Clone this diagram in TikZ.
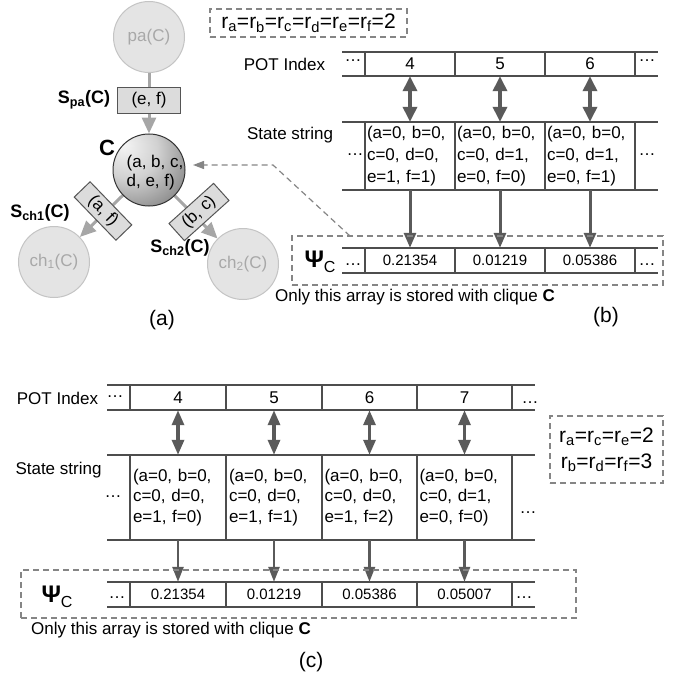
\documentclass[tikz,border=0pt]{standalone}
\usepackage{fontspec}
\setmainfont{Liberation Sans}
\usetikzlibrary{arrows.meta,backgrounds}
\definecolor{tline}{HTML}{4D4D4D}
\definecolor{arrc}{HTML}{5A5A5A}
\definecolor{dshc}{HTML}{858585}
\definecolor{gedgec}{HTML}{A6A6A6}
\definecolor{lcfill}{HTML}{E4E4E4}
\definecolor{lcdraw}{HTML}{C4C4C4}
\definecolor{lctext}{HTML}{A8A8A8}
\definecolor{boxfill}{HTML}{DCDCDC}
\definecolor{boxdraw}{HTML}{555555}
\pgfdeclareradialshading{cshade}{\pgfpoint{-18bp}{18bp}}{color(0bp)=(white!96!black); color(20bp)=(white!82!black); color(40bp)=(black!45); color(56bp)=(black!62); color(90bp)=(black!68)}
\newcommand\fsz[2]{\fontsize{#1}{#2}\selectfont}
\newcommand\sbs[1]{\textsubscript{#1}}
\begin{document}
\begin{tikzpicture}[x=1pt,y=-1pt,
  txt/.style={inner sep=0pt, font=\fsz{17}{21}},
  lab/.style={inner sep=0pt, font=\fsz{21}{21}},
  boldlab/.style={inner sep=0pt, font=\bfseries\fsz{18}{18}},
  hline/.style={tline, line width=2pt},
  vline/.style={tline, line width=1.2pt},
  cellB/.style={minimum width=90pt, minimum height=24pt, inner sep=0pt, font=\fsz{17}{21}},
  stateB/.style={text width=86pt, align=left, minimum height=68pt, inner sep=2pt, font=\fsz{17}{22}},
  psiB/.style={minimum width=90pt, minimum height=25pt, inner sep=0pt, font=\fsz{15}{15}},
  cellC/.style={minimum width=95pt, minimum height=25pt, inner sep=0pt, font=\fsz{17}{21}},
  stateC/.style={text width=90pt, align=left, minimum height=85pt, inner sep=2.5pt, font=\fsz{17}{20.5}},
  psiC/.style={minimum width=95pt, minimum height=25pt, inner sep=0pt, font=\fsz{15}{15}},
  dotsty/.style={inner sep=0pt, anchor=base, font=\fsz{17}{17}},
  dblarr/.style={arrc, line width=3.5pt, {Triangle[length=15pt,width=14pt]}-{Triangle[length=15pt,width=14pt]}},
  downarr/.style={arrc, line width=3pt, -{Triangle[length=15pt,width=12pt]}},
  dblarrC/.style={arrc, line width=3.2pt, {Triangle[length=15pt,width=12pt]}-{Triangle[length=15pt,width=12pt]}},
  downarrC/.style={arrc, line width=2.6pt, -{Triangle[length=15pt,width=11pt]}},
  dashbox/.style={draw=dshc, dash pattern=on 6pt off 4pt, line width=1.2pt, inner sep=0pt},
  dasharr/.style={dshc, dash pattern=on 6pt off 4pt, line width=1.2pt, -{Triangle[length=11pt,width=8pt]}},
  gline/.style={gedgec, line width=3pt},
  garr/.style={gline, -{Triangle[length=16pt,width=14pt]}},
  lcirc/.style={circle, fill=lcfill, draw=lcdraw, line width=1pt, minimum size=71pt, inner sep=0pt, text=lctext, font=\fsz{17}{17}},
  sbox/.style={draw=boxdraw, fill=boxfill, line width=1pt, inner sep=0pt, font=\fsz{17}{17}}
]
\useasboundingbox (0,0) rectangle (683,677);

% ---------------- panel (a) ----------------
\node[lcirc] (pa) at (149,37) {pa(C)};
\node[sbox, minimum width=63pt, minimum height=25pt] (ef) at (149,100.5) {(e, f)};
\node[circle, shading=cshade, draw=black!80, line width=1pt, minimum size=72pt, inner sep=0pt] (C) at (149,170) {};
\node[txt, align=left, font=\fsz{17}{19}] (ctext) at (155,172.5) {(a, b, c,\\d, e, f)};
\node[lcirc] (ch1) at (54,262) {ch\sbs{1}(C)};
\node[lcirc] (ch2) at (243,264) {ch\sbs{2}(C)};
\node[sbox, rotate=-46, minimum width=60pt, minimum height=22pt] (af) at (103,211) {(a, f)};
\node[sbox, rotate=42, minimum width=60pt, minimum height=23pt] (bc) at (199,212) {(b, c)};
\node[boldlab] (Spa) at (84,100) {S\sbs{pa}(C)};
\node[boldlab] (Sch1) at (40,213) {S\sbs{ch1}(C)};
\node[boldlab] (Sch2) at (180,248) {S\sbs{ch2}(C)};
\node[inner sep=0pt, font=\bfseries\fsz{22}{22}] (Clab) at (107,148) {C};
\node[lab] (la) at (162,320) {(a)};
\begin{scope}[on background layer]
\draw[gline] (pa) -- (ef);
\draw[garr] (ef) -- (C);
\draw[garr] (C) -- (ch1);
\draw[garr] (C) -- (ch2);
\end{scope}

% ---------------- panel (b) ----------------
\node[dashbox, minimum width=197pt, minimum height=28pt, font=\fsz{21}{21}] (rB) at (308.5,23) {r\sbs{a}=r\sbs{b}=r\sbs{c}=r\sbs{d}=r\sbs{e}=r\sbs{f}=2};
\node[txt] (potB) at (284.5,64) {POT Index};
\node[txt] (stB) at (290,135) {State string};
\foreach \y in {52,76,122,190,248,273} \draw[hline] (342,\y) -- (658,\y);
\foreach \x in {365,455,545,635} {
  \draw[vline] (\x,52) -- (\x,76);
  \draw[vline] (\x,122) -- (\x,190);
  \draw[vline] (\x,248) -- (\x,273);
}
\node[cellB] (p4) at (410,64) {4};
\node[cellB] (p5) at (500,64) {5};
\node[cellB] (p6) at (590,64) {6};
\node[stateB] (s4) at (410,156) {(a=0, b=0,\\c=0, d=0,\\e=1, f=1)};
\node[stateB] (s5) at (500,156) {(a=0, b=0,\\c=0, d=1,\\e=0, f=0)};
\node[stateB] (s6) at (590,156) {(a=0, b=0,\\c=0, d=1,\\e=0, f=1)};
\node[psiB] (v4) at (410,260.5) {0.21354};
\node[psiB] (v5) at (500,260.5) {0.01219};
\node[psiB] (v6) at (590,260.5) {0.05386};
\node[dotsty] (dbp1) at (353,62) {…};
\node[dotsty] (dbp2) at (647,62) {…};
\node[dotsty] (dbs1) at (355,155) {…};
\node[dotsty] (dbs2) at (647,155) {…};
\node[dotsty] (dbv1) at (353,265) {…};
\node[dotsty] (dbv2) at (647,265) {…};
\foreach \i in {4,5,6} {
  \draw[dblarr] (p\i.south) -- (s\i.north);
  \draw[downarr] (s\i.south) -- (v\i.north);
}
\node[dashbox, minimum width=371pt, minimum height=49pt] (psiboxB) at (477.5,260.5) {};
\node[inner sep=0pt] (psiB) at (320,262) {\fsz{24}{24}\textbf{Ψ}\fsz{16}{16}\raisebox{-5pt}{C}};
\node[txt, anchor=west] (onlyB) at (275,297) {Only this array is stored with clique \textbf{C}};
\node[lab] (lb) at (606,317) {(b)};
\coordinate (dstart) at (350,236);
\coordinate (dbend) at (273,165);
\coordinate (dend) at (193,165);
\draw[dasharr] (dstart) -- (dbend) -- (dend);

% ---------------- panel (c) ----------------
\node[txt] (potC) at (57.5,398) {POT Index};
\node[txt] (stC) at (58.5,470) {State string};
\foreach \y in {385,410,455,540,582,607} \draw[hline] (107,\y) -- (535,\y);
\foreach \x in {130,226,322,417,512} {
  \draw[vline] (\x,385) -- (\x,410);
  \draw[vline] (\x,455) -- (\x,540);
  \draw[vline] (\x,582) -- (\x,607);
}
\node[cellC] (q4) at (178,397.5) {4};
\node[cellC] (q5) at (274,397.5) {5};
\node[cellC] (q6) at (369.5,397.5) {6};
\node[cellC] (q7) at (464.5,397.5) {7};
\node[stateC] (t4) at (178,497.5) {(a=0, b=0,\\c=0, d=0,\\e=1, f=0)};
\node[stateC] (t5) at (274,497.5) {(a=0, b=0,\\c=0, d=0,\\e=1, f=1)};
\node[stateC] (t6) at (369.5,497.5) {(a=0, b=0,\\c=0, d=0,\\e=1, f=2)};
\node[stateC] (t7) at (464.5,497.5) {(a=0, b=0,\\c=0, d=1,\\e=0, f=0)};
\node[psiC] (w4) at (178,594.5) {0.21354};
\node[psiC] (w5) at (274,594.5) {0.01219};
\node[psiC] (w6) at (369.5,594.5) {0.05386};
\node[psiC] (w7) at (464.5,594.5) {0.05007};
\node[dotsty] (dcp1) at (115,397) {…};
\node[dotsty] (dcp2) at (530,403) {…};
\node[dotsty] (dcs1) at (113,497) {…};
\node[dotsty] (dcs2) at (528,513) {…};
\node[dotsty] (dcv1) at (117,598) {…};
\node[dotsty] (dcv2) at (524,598) {…};
\foreach \i in {4,5,6,7} {
  \draw[dblarrC] (q\i.south) -- (t\i.north);
  \draw[downarrC] (t\i.south) -- (w\i.north);
}
\node[dashbox, minimum width=113pt, minimum height=67pt, align=center, font=\fsz{21}{26}] (rC) at (606.5,449.5) {r\sbs{a}=r\sbs{c}=r\sbs{e}=2\\r\sbs{b}=r\sbs{d}=r\sbs{f}=3};
\node[dashbox, minimum width=555pt, minimum height=48pt] (psiboxC) at (298.5,594) {};
\node[inner sep=0pt] (psiC) at (57,597) {\fsz{24}{24}\textbf{Ψ}\fsz{16}{16}\raisebox{-5pt}{C}};
\node[txt, anchor=west] (onlyC) at (31,630) {Only this array is stored with clique \textbf{C}};
\node[lab] (lc) at (311,662) {(c)};
\end{tikzpicture}
\end{document}
